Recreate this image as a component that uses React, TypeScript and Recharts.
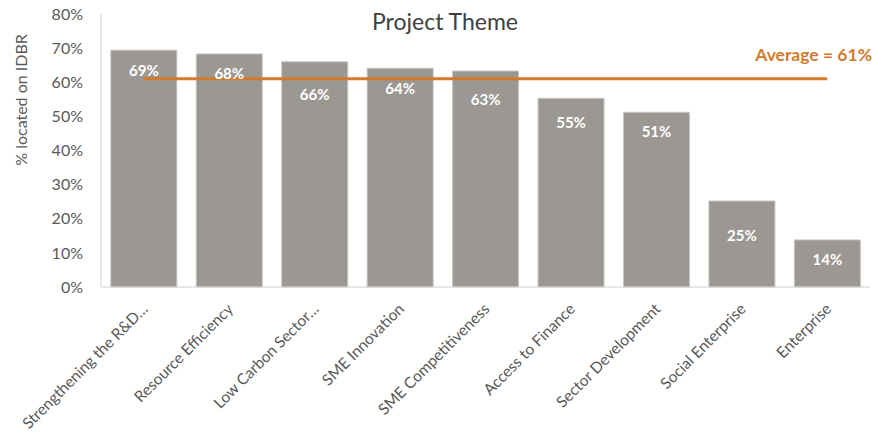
import { ComposedChart, Bar, Line, XAxis, YAxis, LabelList, Customized } from 'recharts';

const categories = [
  'Strengthening the R&D…',
  'Resource Efficiency',
  'Low Carbon Sector…',
  'SME Innovation',
  'SME Competitiveness',
  'Access to Finance',
  'Sector Development',
  'Social Enterprise',
  'Enterprise',
];
const shares = [69.4, 68.3, 66.0, 64.1, 63.3, 55.3, 51.2, 25.2, 13.8];
const average = 61;
const yTicks = [0, 10, 20, 30, 40, 50, 60, 70, 80];

// how far each bar label sits below the top of its bar (moved clear of the average line)
const labelDrop = [20, 19, 32, 20, 28, 24, 19, 34, 19];

const FONT = 'Lato, "Liberation Sans", sans-serif';
const GREY = '#595959';
const ORANGE = '#D27A2D';

const data = categories.map((name, i) => ({ name, share: shares[i], avg: average }));

const CategoryTick = (props: any) => {
  const { x, y, payload } = props;
  const ax = x + 5;
  const ay = y + 15;
  return (
    <text
      x={ax}
      y={ay}
      transform={`rotate(-45, ${ax}, ${ay})`}
      textAnchor="end"
      fontSize={15.5}
      fill={GREY}
      fontFamily={FONT}
    >
      {payload.value}
    </text>
  );
};

const BarValue = (props: any) => {
  const { x, y, width, value, index } = props;
  return (
    <text
      x={x + width / 2}
      y={y + labelDrop[index]}
      textAnchor="middle"
      dominantBaseline="central"
      fontSize={15}
      fontWeight={700}
      fill="#ffffff"
      fontFamily={FONT}
    >
      {Math.round(value)}%
    </text>
  );
};

const AverageLabel = (props: any) => {
  const { index, y } = props;
  if (index !== categories.length - 1) return null;
  return (
    <text
      x={872}
      y={y - 24}
      textAnchor="end"
      dominantBaseline="central"
      fontSize={17.5}
      fontWeight={700}
      fill={ORANGE}
      fontFamily={FONT}
    >
      Average = {average}%
    </text>
  );
};

const Titles = () => (
  <g>
    <text x={445} y={21} textAnchor="middle" dominantBaseline="central" fontSize={23} fill="#404040" fontFamily={FONT}>
      Project Theme
    </text>
    <text
      x={20}
      y={100}
      transform="rotate(-90, 20, 100)"
      textAnchor="middle"
      dominantBaseline="central"
      fontSize={16}
      fill={GREY}
      fontFamily={FONT}
    >
      % located on IDBR
    </text>
  </g>
);

export default function App() {
  return (
    <div style={{ position: 'absolute', left: 0, top: 0, background: '#fff' }}>
      <ComposedChart
        width={876}
        height={438}
        data={data}
        margin={{ top: 14, right: 6, bottom: 0, left: 0 }}
        barCategoryGap="11.5%"
      >
        <XAxis
          dataKey="name"
          height={151}
          interval={0}
          tickLine={false}
          axisLine={{ stroke: '#d0d0d0' }}
          tick={<CategoryTick />}
        />
        <YAxis
          width={101}
          domain={[0, 80]}
          ticks={yTicks}
          tickLine={false}
          tickMargin={12}
          axisLine={{ stroke: '#d0d0d0' }}
          tickFormatter={(v: number) => `${v}%`}
          tick={{ fontSize: 16, fill: GREY, fontFamily: FONT }}
        />
        <Bar dataKey="share" fill="#9b9793" stroke="#c9c5c1" strokeWidth={1} isAnimationActive={false}>
          <LabelList dataKey="share" content={<BarValue />} />
        </Bar>
        <Line
          dataKey="avg"
          stroke={ORANGE}
          strokeWidth={3}
          dot={false}
          activeDot={false}
          isAnimationActive={false}
        >
          <LabelList dataKey="avg" content={<AverageLabel />} />
        </Line>
        <Customized component={Titles} />
      </ComposedChart>
    </div>
  );
}
